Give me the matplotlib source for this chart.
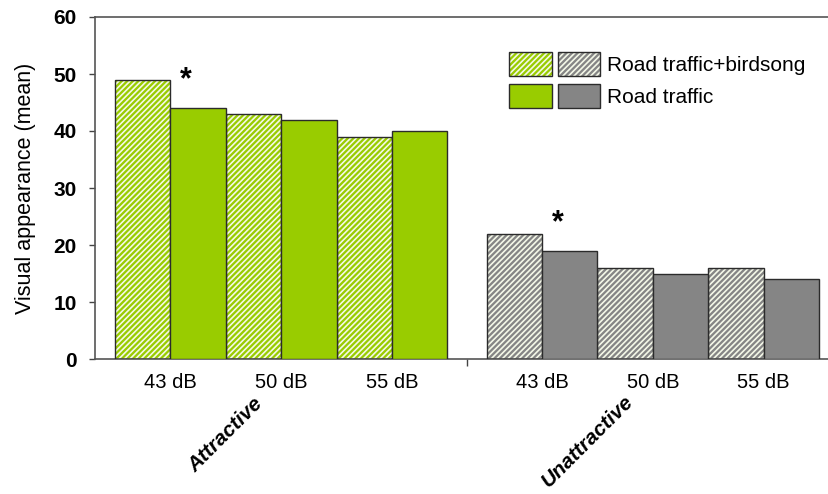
import numpy as np
import matplotlib
matplotlib.use("Agg")
import matplotlib.pyplot as plt
from matplotlib.patches import Rectangle
from matplotlib.legend_handler import HandlerTuple

plt.rcParams["font.family"] = ["Liberation Sans", "DejaVu Sans"]
plt.rcParams["hatch.linewidth"] = 1.2

# mean visual appearance scores per noise level
levels = ["43 dB", "50 dB", "55 dB"]
groups = ["Attractive", "Unattractive"]
attr_birdsong = [49, 43, 39]
attr_traffic = [44, 42, 40]
unattr_birdsong = [22, 16, 16]
unattr_traffic = [19, 15, 14]
significant = [True, False, False]  # marked with * per group

GREEN = "#99cc00"
GREY = "#858585"
EDGE = "#2b2b2b"
HATCH = "//////"

fig = plt.figure(figsize=(8.29, 4.94), dpi=100)
ax = fig.add_axes([95 / 829, 1 - 359 / 494, 734 / 829, 342 / 494])

width = 1.0
group_start = [0.0, 6.71]
series = [
    (attr_birdsong, attr_traffic, GREEN),
    (unattr_birdsong, unattr_traffic, GREY),
]

tick_pos = []
for start, (birds, traffic, col) in zip(group_start, series):
    idx = np.arange(len(levels))
    xb = start + 2 * idx * width
    xt = xb + width
    # hatched bars: white stripes, outline drawn separately
    ax.bar(xb, birds, width, align="edge", color=col, edgecolor="#f4f8e8",
           hatch=HATCH, linewidth=0, zorder=2)
    ax.bar(xb, birds, width, align="edge", fill=False, edgecolor=EDGE,
           linewidth=1, zorder=3)
    ax.bar(xt, traffic, width, align="edge", color=col, edgecolor=EDGE,
           linewidth=1, zorder=3)
    for i in idx:
        if significant[i]:
            ax.annotate("*", xy=(xt[i] + 0.28 * width, traffic[i]),
                        xytext=(0, 9), textcoords="offset points",
                        ha="center", va="bottom", fontsize=22,
                        fontweight="bold", zorder=4)
    tick_pos.extend(xt)

ax.set_xlim(-0.36, 12.89)
ax.set_ylim(0, 60)
ax.set_yticks(np.arange(0, 61, 10))
ax.set_xticks(tick_pos)
ax.set_xticklabels(levels * 2, fontsize=14.5)
ax.tick_params(axis="x", which="major", length=0, pad=10)
sep = (group_start[0] + 6 * width + group_start[1]) / 2
ax.set_xticks([sep], minor=True)
ax.tick_params(axis="x", which="minor", length=5, width=1, color="#444444")
ax.tick_params(axis="y", length=4, width=1, color="#444444", pad=9,
               labelsize=15)
for lab in ax.get_yticklabels():
    lab.set_fontweight("bold")

for side in ["left", "top", "bottom"]:
    ax.spines[side].set_color("#555555")
    ax.spines[side].set_linewidth(1.2)
ax.spines["right"].set_visible(False)

ax.set_ylabel("Visual appearance (mean)", fontsize=15.5)
ax.yaxis.set_label_coords(-0.081, 0.5)

fig.text(226 / 829, 1 - 435 / 494, groups[0], rotation=45, ha="center",
         va="center", fontsize=15, fontstyle="italic", fontweight="bold")
fig.text(588 / 829, 1 - 441 / 494, groups[1], rotation=45, ha="center",
         va="center", fontsize=15, fontstyle="italic", fontweight="bold")

# legend: green + grey swatch pairs for each condition
def hatched(col):
    return (Rectangle((0, 0), 1, 1, facecolor=col, edgecolor="#f4f8e8",
                      hatch=HATCH, linewidth=0),
            Rectangle((0, 0), 1, 1, fill=False, edgecolor=EDGE, linewidth=1))

def solid(col):
    return Rectangle((0, 0), 1, 1, facecolor=col, edgecolor=EDGE, linewidth=1)

h_birds = (hatched(GREEN), hatched(GREY))
h_traffic = (solid(GREEN), solid(GREY))
fig.legend([h_birds, h_traffic], ["Road traffic+birdsong", "Road traffic"],
           handler_map={h_birds: HandlerTuple(ndivide=None, pad=0.29),
                        h_traffic: HandlerTuple(ndivide=None, pad=0.29)},
           loc="upper left", bbox_to_anchor=(509 / 829, 1 - 52 / 494),
           frameon=False, fontsize=15, borderpad=0, borderaxespad=0,
           handlelength=4.375, handleheight=1.4, handletextpad=0.34,
           labelspacing=0.4)

fig.savefig("out.png", dpi=100)
